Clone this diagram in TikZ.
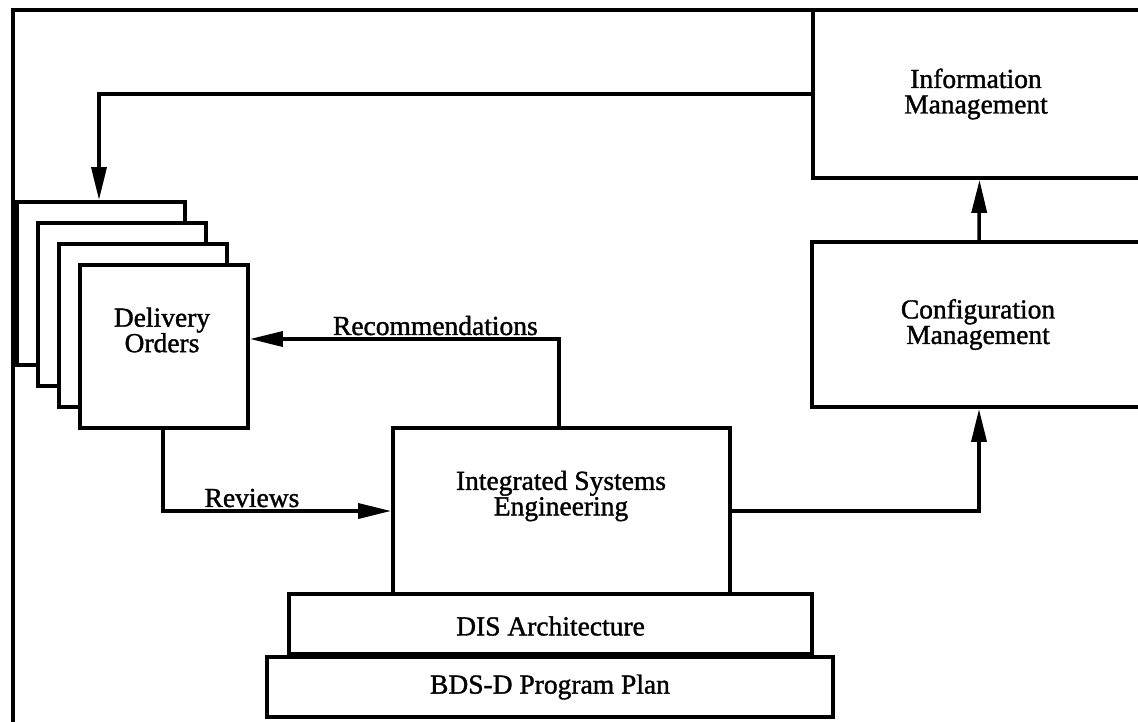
\documentclass[tikz,border=0pt]{standalone}
\usepackage{fontspec}
\setmainfont[FakeBold=1.3]{Liberation Serif}
\usetikzlibrary{arrows.meta}
\begin{document}
\begin{tikzpicture}[x=1pt,y=-1pt, line width=3.8pt,
  box/.style={draw, fill=white, inner sep=0pt, line join=miter},
  lbl/.style={font=\fontsize{27.5}{25.5}\selectfont, align=center, inner sep=0pt},
  conn/.style={line width=3.5pt, -{Triangle[length=33pt,width=15pt]}},
  clbl/.style={font=\fontsize{27.5}{25.5}\selectfont, inner sep=2pt, anchor=south}]
\clip (0,0) rectangle (1138,721);
\fill[white] (0,0) rectangle (1138,721);
% outer frame
\draw[line width=4.2pt] (13,725) -- (13,10) -- (1145,10);
% right column
\node[box, minimum width=337pt, minimum height=168pt] (info) at (981.5,94) {};
\node[lbl] (infot) at (976,94) {Information\\Management};
\node[box, minimum width=338pt, minimum height=165pt] (config) at (981,324.5) {};
\node[lbl] (configt) at (978,324.5) {Configuration\\Management};
% delivery orders stack
\node[box, minimum width=168pt, minimum height=163pt] (d1) at (101,283.5) {};
\node[box, minimum width=168pt, minimum height=163pt] (d2) at (122,304.5) {};
\node[box, minimum width=168pt, minimum height=163pt] (d3) at (143,325.5) {};
\node[box, minimum width=168pt, minimum height=163pt] (d4) at (164,346.5) {};
\node[lbl] (d4t) at (162,330) {Delivery\\Orders};
% integrated systems engineering stack
\node[box, minimum width=337pt, minimum height=166pt] (ise) at (561.5,511) {};
\node[lbl] (iset) at (561,496) {Integrated Systems\\Engineering};
\node[box, minimum width=523pt, minimum height=60pt] (dis) at (550.5,624) {};
\node[lbl] (dist) at (550.5,626) {DIS Architecture};
\node[box, minimum width=566pt, minimum height=60pt] (bds) at (550,687) {};
\node[lbl] (bdst) at (550,687) {BDS-D Program Plan};
% connectors
\draw[conn] (info.west) -| ([xshift=-2pt]d1.north);
\draw[conn] ([xshift=-2pt]config.north) -- ([xshift=-2pt]info.south);
\draw[conn] ([xshift=-2.5pt]ise.north) |- ([yshift=7.5pt]d4.east)
  node[clbl, pos=0.7] (rec) {Recommendations};
\draw[conn] ([xshift=-1pt]d4.south) |- (ise.west)
  node[clbl, pos=0.695] (rev) {Reviews};
\draw[conn] (ise.east) -| ([xshift=-2pt]config.south);
\end{tikzpicture}
\end{document}
